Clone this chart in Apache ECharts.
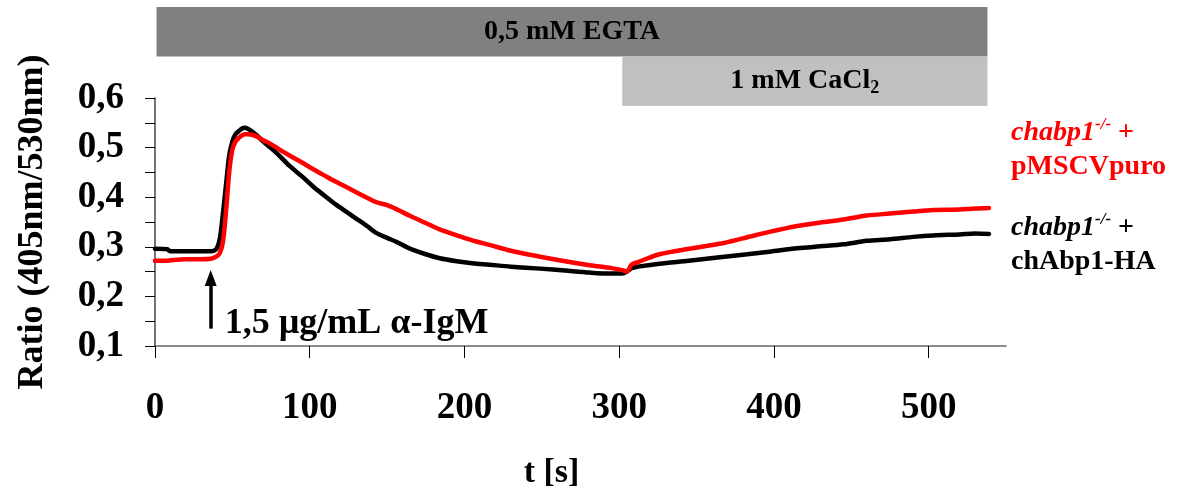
<!DOCTYPE html>
<html>
<head>
<meta charset="utf-8">
<script src="https://cdn.jsdelivr.net/npm/echarts@6/dist/echarts.min.js"></script>
<style>
  html, body { margin: 0; padding: 0; background: #fff; }
  #main { width: 1177px; height: 488px; }
</style>
</head>
<body>
<div id="main"></div>
<script>
// values
const timeTicks = [0, 100, 200, 300, 400, 500]
const ratioTicks = [0.1, 0.2, 0.3, 0.4, 0.5, 0.6]
const times = [0, 8, 10, 20, 30, 36, 38, 40, 42, 44, 46, 48, 50, 52, 54, 56, 58, 60, 63, 66, 70, 75, 80, 87, 95, 102, 110, 117, 124, 130, 137, 143, 150, 156, 165, 175, 184, 195, 205, 216, 230, 249, 265, 281, 295, 302, 305, 308, 312, 326, 345, 365, 380, 397, 415, 430, 445, 460, 475, 490, 503, 520, 530, 539]
const abpRatio = [0.296, 0.295, 0.291, 0.291, 0.291, 0.291, 0.292, 0.297, 0.318, 0.370, 0.428, 0.485, 0.512, 0.527, 0.533, 0.538, 0.540, 0.538, 0.532, 0.524, 0.512, 0.499, 0.485, 0.463, 0.442, 0.422, 0.402, 0.385, 0.370, 0.357, 0.342, 0.328, 0.318, 0.310, 0.296, 0.285, 0.277, 0.271, 0.267, 0.264, 0.260, 0.256, 0.252, 0.248, 0.246, 0.246, 0.250, 0.257, 0.260, 0.266, 0.272, 0.279, 0.284, 0.290, 0.297, 0.301, 0.305, 0.312, 0.315, 0.320, 0.323, 0.325, 0.327, 0.326]
const puroRatio = [0.272, 0.272, 0.273, 0.275, 0.275, 0.276, 0.278, 0.281, 0.288, 0.312, 0.375, 0.452, 0.496, 0.512, 0.519, 0.524, 0.527, 0.527, 0.526, 0.522, 0.515, 0.507, 0.497, 0.484, 0.470, 0.457, 0.443, 0.431, 0.420, 0.410, 0.399, 0.390, 0.384, 0.376, 0.362, 0.348, 0.335, 0.323, 0.313, 0.304, 0.292, 0.280, 0.271, 0.263, 0.257, 0.253, 0.250, 0.264, 0.269, 0.285, 0.296, 0.306, 0.317, 0.330, 0.342, 0.349, 0.355, 0.363, 0.367, 0.371, 0.374, 0.375, 0.377, 0.378]

// buffer bars on top
const phaseNames = ['0,5 mM EGTA', '1 mM CaCl{sub|2}']
const phaseStart = [1, 302]
const phaseEnd = [538, 538]
const phaseColors = ['#808080', '#c0c0c0']

// stimulation arrow and its label
const stimTime = 36
const stimFrom = 0.135
const stimTo = 0.237
const stimLabelAt = [45, 0.144]

const font = 'Liberation Serif'
const chart = echarts.init(document.getElementById('main'))

const zip = (a, b) => a.map((v, i) => [v, b[i]])
const comma = v => v.toFixed(1).replace('.', ',')

chart.setOption({
  animation: false,
  textStyle: { fontFamily: font, fontWeight: 'bold', color: '#000' },
  grid: [
    { left: 155, right: 171, top: 98, bottom: 142, outerBoundsMode: 'none' },
    { left: 155, right: 171, top: 7, height: 99, outerBoundsMode: 'none' }
  ],
  xAxis: [{
    type: 'value',
    min: 0,
    max: 550,
    interval: 100,
    splitLine: { show: false },
    axisLine: { lineStyle: { color: '#666', width: 1.5 } },
    axisTick: { length: 12, customValues: timeTicks, lineStyle: { color: '#000' } },
    axisLabel: {
      customValues: timeTicks,
      margin: 62,
      verticalAlign: 'middle',
      fontSize: 37,
      fontFamily: font,
      fontWeight: 'bold',
      color: '#000'
    },
    name: 't [s]',
    nameLocation: 'middle',
    nameGap: 110,
    nameTextStyle: { fontSize: 34, fontFamily: font, fontWeight: 'bold', color: '#000', padding: [0, 58, 0, 0] }
  }, {
    type: 'value',
    gridIndex: 1,
    min: 0,
    max: 550,
    show: false
  }],
  yAxis: [{
    type: 'value',
    min: 0.1,
    max: 0.6,
    interval: 0.05,
    splitLine: { show: false },
    axisLine: { show: true, lineStyle: { color: '#444', width: 1.5 } },
    axisTick: { show: true, length: 10, lineStyle: { color: '#000' } },
    axisLabel: {
      margin: 31,
      fontSize: 37,
      fontFamily: font,
      fontWeight: 'bold',
      color: '#000',
      formatter: v => ratioTicks.some(t => Math.abs(t - v) < 1e-6) ? comma(v) : ''
    },
    name: 'Ratio (405nm/530nm)',
    nameLocation: 'middle',
    nameGap: 104,
    nameTextStyle: { fontSize: 36, fontFamily: font, fontWeight: 'bold', color: '#000' }
  }, {
    type: 'category',
    gridIndex: 1,
    inverse: true,
    data: phaseNames,
    show: false
  }],
  series: [{
    type: 'custom',
    xAxisIndex: 1,
    yAxisIndex: 1,
    data: phaseNames.map((n, i) => [phaseStart[i], phaseEnd[i], i]),
    renderItem: (params, api) => {
      const row = api.value(2)
      const a = api.coord([api.value(0), row])
      const b = api.coord([api.value(1), row])
      const h = api.size([0, 1])[1]
      return {
        type: 'rect',
        shape: { x: a[0], y: a[1] - h / 2, width: b[0] - a[0], height: h },
        style: { fill: phaseColors[row] },
        textContent: {
          style: {
            text: phaseNames[row],
            fontFamily: font,
            fontWeight: 'bold',
            fontSize: 28,
            fill: '#000',
            rich: { sub: { fontFamily: font, fontWeight: 'bold', fontSize: 18, verticalAlign: 'bottom', padding: [14, 0, 0, 0] } }
          }
        },
        textConfig: { position: 'inside' }
      }
    }
  }, {
    name: 'chAbp1-HA',
    type: 'line',
    data: zip(times, abpRatio),
    showSymbol: false,
    smooth: 0.3,
    lineStyle: { color: '#000', width: 4.5, cap: 'round', join: 'round' },
    markLine: {
      silent: true,
      symbol: ['none', 'triangle'],
      symbolSize: [12, 16],
      lineStyle: { color: '#000', width: 3.5, type: 'solid' },
      label: { show: false },
      data: [[{ coord: [stimTime, stimFrom] }, { coord: [stimTime, stimTo] }]]
    },
    markPoint: {
      silent: true,
      symbol: 'circle',
      symbolSize: 0,
      data: [{ coord: stimLabelAt }],
      label: {
        show: true,
        position: 'right',
        distance: 0,
        formatter: '1,5 µg/mL α-IgM',
        fontFamily: font,
        fontWeight: 'bold',
        fontSize: 36,
        color: '#000'
      }
    }
  }, {
    name: 'pMSCVpuro',
    type: 'line',
    data: zip(times, puroRatio),
    showSymbol: false,
    smooth: 0.3,
    lineStyle: { color: '#ff0000', width: 4.5, cap: 'round', join: 'round' }
  }],
  graphic: [{
    type: 'text',
    left: 1011,
    top: 116,
    style: {
      text: '{i|chabp1}{s|-/-}{n| +}\n{n|pMSCVpuro}',
      fill: '#ff0000',
      rich: {
        i: { fontFamily: font, fontWeight: 'bold', fontStyle: 'italic', fontSize: 28, lineHeight: 34, fill: '#ff0000' },
        s: { fontFamily: font, fontWeight: 'bold', fontStyle: 'italic', fontSize: 17, lineHeight: 20, verticalAlign: 'top', fill: '#ff0000' },
        n: { fontFamily: font, fontWeight: 'bold', fontSize: 28, lineHeight: 34, fill: '#ff0000' }
      }
    }
  }, {
    type: 'text',
    left: 1011,
    top: 211,
    style: {
      text: '{i|chabp1}{s|-/-}{n| +}\n{n|chAbp1-HA}',
      fill: '#000',
      rich: {
        i: { fontFamily: font, fontWeight: 'bold', fontStyle: 'italic', fontSize: 28, lineHeight: 34, fill: '#000' },
        s: { fontFamily: font, fontWeight: 'bold', fontStyle: 'italic', fontSize: 17, lineHeight: 20, verticalAlign: 'top', fill: '#000' },
        n: { fontFamily: font, fontWeight: 'bold', fontSize: 28, lineHeight: 34, fill: '#000' }
      }
    }
  }]
})
</script>
</body>
</html>
